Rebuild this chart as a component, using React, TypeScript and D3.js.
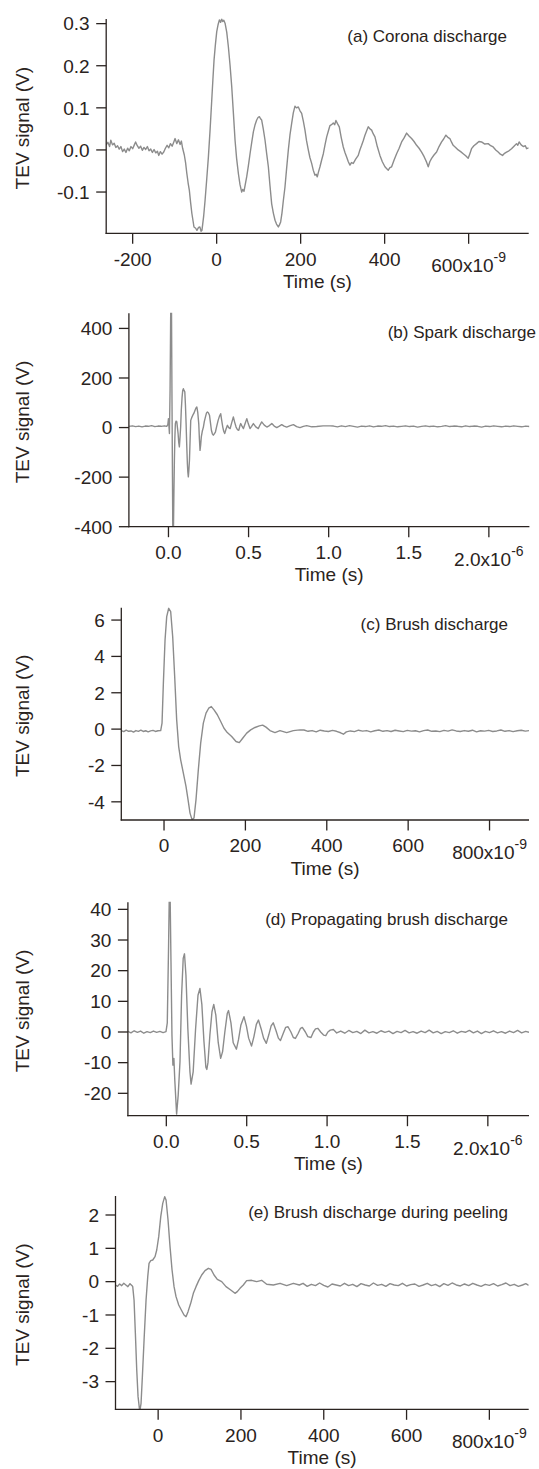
import React from 'react';
import * as d3 from 'd3';

type Pt = [number, number];

// ---------- (a) Corona discharge: time in ns, signal in V ----------
const coronaTrace: Pt[] = [
  [-263, 0.012], [-259, 0.018], [-255, 0.008], [-252, 0.023], [-248, 0.012], [-244, 0.016], [-240, 0.006], [-236, 0.010],
  [-232, 0.002], [-228, 0.008], [-224, -0.004], [-220, 0.002], [-216, -0.006], [-212, 0.004], [-208, -0.002], [-204, 0.008],
  [-200, 0.003], [-196, 0.012], [-193, 0.019], [-189, 0.010], [-185, 0.004], [-181, 0.009], [-177, -0.001], [-173, 0.006],
  [-169, 0.001], [-165, 0.008], [-161, -0.002], [-157, 0.002], [-153, -0.006], [-149, 0.001], [-145, -0.007], [-141, -0.003],
  [-138, -0.013], [-134, -0.004], [-130, -0.010], [-126, -0.005], [-122, 0.004], [-118, 0.011], [-114, 0.005], [-110, 0.015],
  [-106, 0.009], [-102, 0.019], [-99, 0.027], [-95, 0.015], [-91, 0.024], [-87, 0.013], [-84, 0.021], [-81, 0.004],
  [-77, -0.012], [-74, -0.030], [-71, -0.056], [-68, -0.078], [-65, -0.096], [-62, -0.125], [-59, -0.151], [-56, -0.170],
  [-54, -0.183], [-50, -0.186], [-47, -0.191], [-43, -0.184], [-40, -0.183], [-37, -0.193], [-35, -0.191], [-31, -0.158],
  [-27.6, -0.120], [-23.5, -0.068], [-19.7, -0.017], [-15.5, 0.050], [-11.7, 0.118], [-9, 0.166], [-6.2, 0.214], [-3, 0.250],
  [0.2, 0.281], [3.5, 0.298], [6.5, 0.309], [9.5, 0.303], [12, 0.311], [14.4, 0.305], [17, 0.308], [20, 0.301],
  [24, 0.280], [27.9, 0.245], [32, 0.200], [35.9, 0.150], [40, 0.085], [43.8, 0.023], [47.5, -0.020], [51.7, -0.056],
  [55.5, -0.082], [59.6, -0.100], [62, -0.094], [65.2, -0.098], [68.5, -0.080], [71.5, -0.064], [75.5, -0.038], [79.5, -0.009],
  [83.5, 0.018], [87.4, 0.043], [91.5, 0.060], [95.3, 0.071], [98.5, 0.077], [101.7, 0.079], [104.5, 0.074], [107.2, 0.071],
  [111, 0.050], [115.2, 0.023], [119, -0.008], [123.1, -0.040], [127, -0.085], [131, -0.128], [135, -0.150], [139, -0.167],
  [142.5, -0.176], [146.9, -0.183], [149.5, -0.178], [152.4, -0.171], [155.5, -0.150], [158.8, -0.120], [162.7, -0.088], [166.5, -0.045],
  [170.7, 0.000], [174.5, 0.035], [178.6, 0.063], [182.5, 0.088], [186.5, 0.104], [190, 0.100], [194.4, 0.102], [198.5, 0.093],
  [202.4, 0.087], [206.5, 0.068], [210.3, 0.047], [214, 0.022], [218.2, 0.000], [222, -0.018], [226.2, -0.032], [230, -0.048],
  [234.1, -0.060], [237, -0.058], [239.6, -0.064], [242.5, -0.052], [246, -0.040], [250, -0.024], [254, -0.009], [258, 0.012],
  [262, 0.031], [266, 0.045], [269.8, 0.058], [273.5, 0.060], [277.7, 0.064], [281, 0.060], [284, 0.070], [288, 0.062],
  [292, 0.055], [296.5, 0.030], [301.5, 0.007], [305.5, -0.006], [309.5, -0.017], [313.5, -0.028], [317.4, -0.036], [321, -0.030],
  [325.3, -0.032], [331, -0.022], [337.2, -0.013], [341, 0.000], [345.2, 0.011], [349, 0.022], [353.1, 0.035], [357, 0.045],
  [361, 0.055], [365, 0.050], [369, 0.047], [373, 0.038], [376.9, 0.031], [382.5, 0.008], [388.8, -0.013], [394.5, -0.028],
  [400.7, -0.040], [404.5, -0.044], [408.6, -0.048], [412.5, -0.042], [416.6, -0.040], [422.5, -0.024], [428.5, -0.009], [434.5, 0.004],
  [440.4, 0.019], [446, 0.028], [452.3, 0.040], [458, 0.033], [464.2, 0.027], [470, 0.020], [476.1, 0.011], [482, 0.004],
  [488, -0.005], [494, -0.016], [499.9, -0.029], [503.8, -0.040], [507.5, -0.028], [511.8, -0.020], [517.5, -0.012], [523.7, -0.005],
  [529.5, 0.008], [535.6, 0.019], [540.5, 0.026], [545.8, 0.035], [550.5, 0.030], [555.3, 0.027], [559, 0.019], [563.2, 0.011],
  [569, 0.006], [575.1, 0.000], [581, -0.004], [587, -0.009], [593, -0.014], [598.9, -0.020], [602.5, -0.010], [606.9, 0.003],
  [612.5, 0.010], [618.8, 0.015], [624.5, 0.020], [630.7, 0.019], [638.5, 0.014], [646.5, 0.015], [652.5, 0.010], [658.4, 0.007],
  [664.5, 0.000], [670.3, -0.005], [675.5, -0.010], [680.7, -0.013], [685.5, -0.008], [690.2, -0.005], [696, -0.002], [702.1, 0.003],
  [708, 0.009], [714, 0.015], [717, 0.011], [720.2, 0.019], [725, 0.012], [730, 0.008], [735, 0.010], [738, 0.003], [743, 0.005],
];
const coronaXTicks = [-200, 0, 200, 400, 600];
const coronaXLabels = ['-200', '0', '200', '400', '600'];
const coronaYTicks = [-0.1, 0.0, 0.1, 0.2, 0.3];
const coronaYLabels = ['-0.1', '0.0', '0.1', '0.2', '0.3'];

// ---------- (b) Spark discharge: time in µs, signal in V ----------
const sparkTrace: Pt[] = [
  [-0.246, 5], [-0.225, 7], [-0.205, 4], [-0.185, 6], [-0.165, 3], [-0.145, 6], [-0.125, 5], [-0.105, 8], [-0.085, 4],
  [-0.065, 6], [-0.045, 5], [-0.025, 7], [-0.011, 5], [-0.004, 12], [0.0, 36], [0.006, -24], [0.010, 150], [0.014, 470],
  [0.019, 470], [0.022, 110], [0.025, -200], [0.027, -420], [0.031, -420], [0.034, -260], [0.037, -132], [0.040, -40],
  [0.043, 16], [0.047, 26], [0.052, 23], [0.056, 0], [0.060, -24], [0.064, -60], [0.068, -78], [0.072, -40], [0.076, 2],
  [0.080, 70], [0.085, 123], [0.089, 150], [0.093, 157], [0.097, 150], [0.102, 144], [0.106, 90], [0.110, 16], [0.114, -70],
  [0.118, -145], [0.121, -180], [0.124, -199], [0.127, -175], [0.131, -132], [0.135, -50], [0.139, 29], [0.145, 40],
  [0.152, 50], [0.159, 58], [0.166, 70], [0.171, 78], [0.177, 83], [0.183, 60], [0.189, 16], [0.193, -45], [0.197, -92],
  [0.201, -70], [0.205, -38], [0.211, -15], [0.218, 2], [0.224, 25], [0.231, 43], [0.237, 58], [0.243, 63], [0.249, 60],
  [0.256, 50], [0.262, 20], [0.268, -11], [0.274, -25], [0.280, -31], [0.286, -25], [0.293, -18], [0.301, 5], [0.310, 29],
  [0.318, 45], [0.326, 56], [0.332, 30], [0.339, 2], [0.345, -15], [0.351, -24], [0.360, -5], [0.368, 9], [0.376, 0],
  [0.385, -4], [0.395, 20], [0.405, 43], [0.413, 22], [0.422, 2], [0.430, -8], [0.439, -11], [0.445, 5], [0.451, 16],
  [0.459, 6], [0.468, -4], [0.478, 15], [0.489, 36], [0.499, 14], [0.509, -4], [0.519, 5], [0.530, 16], [0.545, 3],
  [0.561, -4], [0.571, 10], [0.582, 23], [0.598, 10], [0.614, 2], [0.630, 8], [0.645, 16], [0.660, 6], [0.676, 0],
  [0.692, 6], [0.707, 12], [0.722, 6], [0.738, 2], [0.760, 8], [0.780, 12], [0.800, 4], [0.821, 0], [0.842, 5], [0.863, 8],
  [0.895, 3], [0.925, 4], [0.965, 7], [1.009, 7], [1.03, 6], [1.055, 3], [1.08, 7], [1.105, 4], [1.13, 8], [1.155, 5],
  [1.18, 2], [1.205, 6], [1.23, 4], [1.255, 7], [1.28, 3], [1.305, 6], [1.33, 5], [1.355, 8], [1.38, 4], [1.405, 6],
  [1.43, 3], [1.455, 5], [1.48, 7], [1.505, 4], [1.53, 6], [1.555, 2], [1.58, 5], [1.605, 7], [1.63, 4], [1.655, 6],
  [1.68, 3], [1.705, 5], [1.73, 8], [1.755, 4], [1.78, 6], [1.805, 5], [1.83, 3], [1.855, 7], [1.88, 4], [1.905, 6],
  [1.93, 5], [1.955, 2], [1.98, 6], [2.005, 4], [2.03, 7], [2.055, 5], [2.08, 3], [2.105, 6], [2.13, 4], [2.155, 7],
  [2.18, 5], [2.205, 3], [2.23, 6], [2.253, 4],
];
const sparkXTicks = [0, 0.5, 1.0, 1.5, 2.0];
const sparkXLabels = ['0.0', '0.5', '1.0', '1.5', '2.0'];
const sparkYTicks = [-400, -200, 0, 200, 400];
const sparkYLabels = ['-400', '-200', '0', '200', '400'];

// ---------- (c) Brush discharge: time in ns, signal in V ----------
const brushTrace: Pt[] = [
  [-105, -0.08], [-99, -0.14], [-93, -0.06], [-87, -0.12], [-81, -0.1], [-75, -0.16], [-69, -0.08], [-63, -0.12],
  [-57, -0.06], [-51, -0.13], [-45, -0.09], [-39, -0.15], [-33, -0.1], [-27, -0.07], [-21, -0.13], [-15, -0.09],
  [-8.2, -0.08], [-4.9, 0.33], [-1.6, 2.53], [2.5, 4.9], [6.6, 6.19], [11.5, 6.65], [16.4, 6.46], [21.3, 5.09],
  [26.2, 2.89], [31.1, 0.51], [36, -0.96], [40.9, -1.69], [47.5, -2.42], [54, -3.15], [59, -3.88], [63.9, -4.62],
  [68.8, -4.98], [73.7, -4.89], [78.6, -3.88], [84.3, -2.24], [90.1, -0.77], [96.6, 0.33], [103.2, 0.88], [109.8, 1.15],
  [116.3, 1.24], [122.9, 1.06], [131, 0.79], [139.3, 0.42], [147.4, 0.05], [155.5, -0.19], [166.3, -0.41], [176.9, -0.68],
  [185, -0.74], [193.3, -0.5], [203.2, -0.22], [213, -0.04], [223.6, 0.09], [234.2, 0.18], [242.4, 0.22], [250.6, 0.11],
  [260.4, -0.08], [272.7, -0.19], [285, -0.08], [301.4, -0.19], [317.8, -0.08], [334, -0.04], [344, -0.05], [354, -0.12],
  [364, -0.08], [374, -0.15], [384, -0.06], [394, -0.1], [404, -0.13], [414, -0.07], [424, -0.12], [434, -0.2],
  [441, -0.28], [448, -0.15], [458, -0.1], [468, -0.14], [478, -0.06], [488, -0.11], [498, -0.08], [508, -0.15],
  [518, -0.09], [528, -0.05], [538, -0.12], [548, -0.08], [558, -0.13], [568, -0.06], [578, -0.1], [588, -0.14],
  [598, -0.07], [608, -0.11], [618, -0.09], [628, -0.15], [638, -0.08], [648, -0.05], [658, -0.12], [668, -0.1],
  [678, -0.14], [688, -0.07], [698, -0.11], [708, -0.04], [718, -0.1], [728, -0.13], [738, -0.08], [748, -0.12],
  [758, -0.06], [768, -0.15], [778, -0.09], [788, -0.11], [798, -0.07], [808, -0.13], [818, -0.1], [828, -0.05],
  [838, -0.12], [848, -0.08], [858, -0.14], [868, -0.09], [878, -0.06], [888, -0.11], [897, -0.08],
];
const brushXTicks = [0, 200, 400, 600, 800];
const brushXLabels = ['0', '200', '400', '600', '800'];
const brushYTicks = [-4, -2, 0, 2, 4, 6];
const brushYLabels = ['-4', '-2', '0', '2', '4', '6'];

// ---------- (d) Propagating brush discharge: time in µs, signal in V ----------
const propTrace: Pt[] = [
  [-0.239, 0.2], [-0.22, -0.3], [-0.2, 0.4], [-0.18, -0.1], [-0.16, 0.3], [-0.14, -0.4], [-0.12, 0.1], [-0.1, -0.2],
  [-0.08, 0.3], [-0.06, -0.1], [-0.04, 0.2], [-0.02, -0.2], [-0.002, 0.1], [0.006, 3], [0.014, 28], [0.018, 43],
  [0.024, 43], [0.029, 23], [0.035, -1], [0.041, -10.8], [0.047, -8.6], [0.053, -16], [0.064, -26.8], [0.074, -20.5],
  [0.085, -9.7], [0.095, 12], [0.105, 24], [0.113, 25.5], [0.122, 18.6], [0.134, 1], [0.147, -13], [0.154, -17],
  [0.167, -13], [0.182, 1], [0.197, 12], [0.209, 14.2], [0.221, 9], [0.234, -3], [0.246, -11.5], [0.252, -12.2],
  [0.259, -10], [0.271, -1], [0.284, 6.6], [0.295, 9], [0.308, 5.5], [0.323, -3.5], [0.338, -8.6], [0.35, -6.4],
  [0.364, 0], [0.379, 6], [0.387, 7], [0.402, 3], [0.416, -3.5], [0.436, -5.6], [0.449, -2.5], [0.464, 2.3],
  [0.483, 5], [0.498, 2], [0.512, -2], [0.53, -4.6], [0.545, -1.5], [0.56, 2.5], [0.573, 3.9], [0.59, 1],
  [0.605, -2], [0.622, -3.7], [0.637, -1], [0.652, 2], [0.665, 3], [0.682, 0.5], [0.697, -2], [0.71, -2.8],
  [0.727, -0.5], [0.742, 1.5], [0.757, 1.7], [0.775, 0], [0.79, -1.8], [0.803, -2.1], [0.82, -0.5], [0.835, 1.2],
  [0.846, 1.5], [0.865, 0], [0.88, -1.5], [0.9, -1.8], [0.915, 0], [0.928, 1], [0.943, 1.2], [0.96, 0],
  [0.978, -1], [0.992, -1.2], [1.005, 0], [1.02, 0.6], [1.039, 0.8], [1.06, -0.3], [1.085, 0.3], [1.11, -0.4],
  [1.135, 0.5], [1.16, -0.2], [1.185, 0.2], [1.21, -0.5], [1.235, 0.6], [1.26, -0.3], [1.285, 0.1], [1.31, -0.4],
  [1.335, 0.4], [1.36, -0.1], [1.385, 0.3], [1.41, -0.5], [1.435, 0.2], [1.46, -0.2], [1.485, 0.5], [1.51, -0.3],
  [1.535, 0.1], [1.56, -0.4], [1.585, 0.3], [1.61, -0.2], [1.635, 0.6], [1.66, -0.3], [1.685, 0.2], [1.71, -0.5],
  [1.735, 0.1], [1.76, -0.2], [1.785, 0.4], [1.81, -0.4], [1.835, 0.2], [1.86, -0.1], [1.885, 0.5], [1.91, -0.3],
  [1.935, 0.3], [1.96, -0.5], [1.985, 0.2], [2.01, -0.2], [2.035, 0.4], [2.06, -0.3], [2.085, 0.1], [2.11, -0.4],
  [2.135, 0.3], [2.16, -0.2], [2.185, 0.5], [2.21, -0.3], [2.235, 0.2], [2.256, -0.1],
];
const propXTicks = [0, 0.5, 1.0, 1.5, 2.0];
const propXLabels = ['0.0', '0.5', '1.0', '1.5', '2.0'];
const propYTicks = [-20, -10, 0, 10, 20, 30, 40];
const propYLabels = ['-20', '-10', '0', '10', '20', '30', '40'];

// ---------- (e) Brush discharge during peeling: time in ns, signal in V ----------
const peelTrace: Pt[] = [
  [-103, -0.1], [-98, -0.14], [-93, -0.07], [-88, -0.12], [-83, -0.05], [-78, -0.1], [-73, -0.15], [-68, -0.06],
  [-63, -0.12], [-61.4, -0.15], [-58.2, -0.55], [-55, -1.55], [-51.7, -2.65], [-48.5, -3.45], [-44.4, -3.9], [-41.3, -3.65],
  [-38.1, -2.85], [-34, -1.75], [-29.2, -0.55], [-25.1, 0.15], [-22, 0.55], [-17.9, 0.63], [-13.1, 0.65], [-7.5, 0.75],
  [-3.4, 0.95], [1.4, 1.35], [6.3, 1.95], [11.1, 2.35], [15.9, 2.55], [19.1, 2.45], [23.9, 1.85], [28.7, 1.05],
  [33.6, 0.35], [38.4, -0.15], [43.2, -0.45], [49.7, -0.7], [56, -0.85], [62.5, -1.0], [67.3, -1.05], [72.2, -0.9],
  [78.6, -0.65], [85, -0.35], [91.5, -0.15], [98, 0.03], [105.2, 0.2], [113.2, 0.33], [121.3, 0.4], [127.7, 0.37],
  [135, 0.2], [142.9, 0.07], [153.5, 0.0], [163.9, -0.15], [175.3, -0.25], [185.6, -0.35], [191.2, -0.3], [197.7, -0.2],
  [205.7, -0.1], [213.8, 0.03], [225.9, 0.04], [238, 0.0], [250, 0.04], [262.2, -0.08], [278.3, -0.1], [294.4, -0.05],
  [310.5, -0.12], [326.6, -0.05], [341, -0.1], [350, -0.05], [360, -0.14], [370, -0.08], [380, -0.12], [390, -0.04],
  [400, -0.11], [410, -0.16], [420, -0.07], [430, -0.1], [440, -0.13], [450, -0.05], [460, -0.12], [470, -0.08],
  [480, -0.15], [490, -0.06], [500, -0.1], [510, -0.13], [520, -0.04], [530, -0.11], [540, -0.08], [550, -0.14],
  [560, -0.06], [570, -0.1], [580, -0.12], [590, -0.05], [600, -0.13], [610, -0.09], [620, -0.07], [630, -0.14],
  [640, -0.1], [650, -0.05], [660, -0.12], [670, -0.08], [680, -0.15], [690, -0.06], [700, -0.11], [710, -0.04],
  [720, -0.1], [730, -0.13], [740, -0.07], [750, -0.12], [760, -0.05], [770, -0.1], [780, -0.14], [790, -0.08],
  [800, -0.11], [810, -0.06], [820, -0.13], [830, -0.09], [840, -0.04], [850, -0.12], [860, -0.08], [870, -0.14],
  [880, -0.1], [888, -0.06], [895, -0.11],
];
const peelXTicks = [0, 200, 400, 600, 800];
const peelXLabels = ['0', '200', '400', '600', '800'];
const peelYTicks = [-3, -2, -1, 0, 1, 2];
const peelYLabels = ['-3', '-2', '-1', '0', '1', '2'];

const titles = [
  '(a) Corona discharge',
  '(b) Spark discharge',
  '(c) Brush discharge',
  '(d) Propagating brush discharge',
  '(e) Brush discharge during peeling',
];
const exponents = ['-9', '-6', '-9', '-6', '-9'];
const xTitle = 'Time (s)';
const yTitle = 'TEV signal (V)';

// ---------- layout ----------
const FONT = "'Liberation Sans', Arial, Helvetica, sans-serif";
const AXIS = '#2a2320';
const TRACE = '#8c8c8c';

interface Spec {
  id: string;
  data: Pt[];
  xDomain: [number, number];
  yDomain: [number, number];
  xTicks: number[];
  xLabels: string[];
  yTicks: number[];
  yLabels: string[];
  left: number; right: number; top: number; bottom: number;
  title: string; titleX: number; titleY: number;
  exponent: string;
}

const specs: Spec[] = [
  { id: 'a', data: coronaTrace, xDomain: [-263, 743], yDomain: [-0.198, 0.311], xTicks: coronaXTicks, xLabels: coronaXLabels,
    yTicks: coronaYTicks, yLabels: coronaYLabels, left: 106.2, right: 528.7, top: 19, bottom: 233.3,
    title: titles[0], titleX: 507, titleY: 41.5, exponent: exponents[0] },
  { id: 'b', data: sparkTrace, xDomain: [-0.247, 2.253], yDomain: [-400, 461], xTicks: sparkXTicks, xLabels: sparkXLabels,
    yTicks: sparkYTicks, yLabels: sparkYLabels, left: 128.9, right: 529.4, top: 313.3, bottom: 526.7,
    title: titles[1], titleX: 536, titleY: 338, exponent: exponents[1] },
  { id: 'c', data: brushTrace, xDomain: [-105, 897], yDomain: [-5, 6.68], xTicks: brushXTicks, xLabels: brushXLabels,
    yTicks: brushYTicks, yLabels: brushYLabels, left: 121.3, right: 529, top: 607.7, bottom: 820,
    title: titles[2], titleX: 508, titleY: 630, exponent: exponents[2] },
  { id: 'd', data: propTrace, xDomain: [-0.239, 2.256], yDomain: [-27.3, 42.3], xTicks: propXTicks, xLabels: propXLabels,
    yTicks: propYTicks, yLabels: propYLabels, left: 127.9, right: 529, top: 902.3, bottom: 1115.7,
    title: titles[3], titleX: 508, titleY: 925, exponent: exponents[3] },
  { id: 'e', data: peelTrace, xDomain: [-103, 895], yDomain: [-3.83, 2.57], xTicks: peelXTicks, xLabels: peelXLabels,
    yTicks: peelYTicks, yLabels: peelYLabels, left: 115.5, right: 528.7, top: 1196, bottom: 1409.3,
    title: titles[4], titleX: 508, titleY: 1218, exponent: exponents[4] },
];

function Panel({ s }: { s: Spec }) {
  const x = d3.scaleLinear().domain(s.xDomain).range([s.left, s.right]);
  const y = d3.scaleLinear().domain(s.yDomain).range([s.bottom, s.top]);
  const line = d3.line<Pt>().x((d) => x(d[0])).y((d) => y(d[1]));
  const clipId = `clip-${s.id}`;
  const lastIdx = s.xTicks.length - 1;
  return (
    <g>
      <defs>
        <clipPath id={clipId}>
          <rect x={s.left} y={s.top - 0.5} width={s.right - s.left} height={s.bottom - s.top + 0.5} />
        </clipPath>
      </defs>
      <path d={line(s.data) || ''} fill="none" stroke={TRACE} strokeWidth={1.4}
        strokeLinejoin="round" clipPath={`url(#${clipId})`} />
      {/* axes */}
      <line x1={s.left} x2={s.left} y1={s.top} y2={s.bottom + 0.6} stroke={AXIS} strokeWidth={1.3} />
      <line x1={s.left - 0.6} x2={s.right} y1={s.bottom} y2={s.bottom} stroke={AXIS} strokeWidth={1.3} />
      {s.yTicks.map((v, i) => (
        <g key={`y${i}`}>
          <line x1={s.left - 10} x2={s.left} y1={y(v)} y2={y(v)} stroke={AXIS} strokeWidth={1.3} />
          <text x={s.left - 16.5} y={y(v) + 6.8} textAnchor="end" fontSize={19} fontFamily={FONT} fill={AXIS}>
            {s.yLabels[i]}
          </text>
        </g>
      ))}
      {s.xTicks.map((v, i) => (
        <g key={`x${i}`}>
          <line x1={x(v)} x2={x(v)} y1={s.bottom} y2={s.bottom + 10.5} stroke={AXIS} strokeWidth={1.3} />
          {i < lastIdx ? (
            <text x={x(v)} y={s.bottom + 32.4} textAnchor="middle" fontSize={19} fontFamily={FONT} fill={AXIS}>
              {s.xLabels[i]}
            </text>
          ) : (
            <text x={x(v)} y={s.bottom + 39} textAnchor="middle" fontSize={19} fontFamily={FONT} fill={AXIS}>
              <tspan>{s.xLabels[i]}x10</tspan>
              <tspan dy={-10} fontSize={14}>{s.exponent}</tspan>
            </text>
          )}
        </g>
      ))}
      <text x={(s.left + s.right) / 2} y={s.bottom + 54.5} textAnchor="middle" fontSize={19} fontFamily={FONT} fill={AXIS}>
        {xTitle}
      </text>
      <text transform={`translate(29, ${(s.top + s.bottom) / 2 + 2}) rotate(-90)`} textAnchor="middle"
        fontSize={19} fontFamily={FONT} fill={AXIS}>
        {yTitle}
      </text>
      <text x={s.titleX} y={s.titleY} textAnchor="end" fontSize={17} fontFamily={FONT} fill={AXIS}>
        {s.title}
      </text>
    </g>
  );
}

export default function App() {
  return (
    <svg width={539} height={1469} viewBox="0 0 539 1469"
      style={{ position: 'absolute', left: 0, top: 0, background: '#ffffff' }}>
      <rect x={0} y={0} width={539} height={1469} fill="#ffffff" />
      {specs.map((s) => (
        <Panel key={s.id} s={s} />
      ))}
    </svg>
  );
}
